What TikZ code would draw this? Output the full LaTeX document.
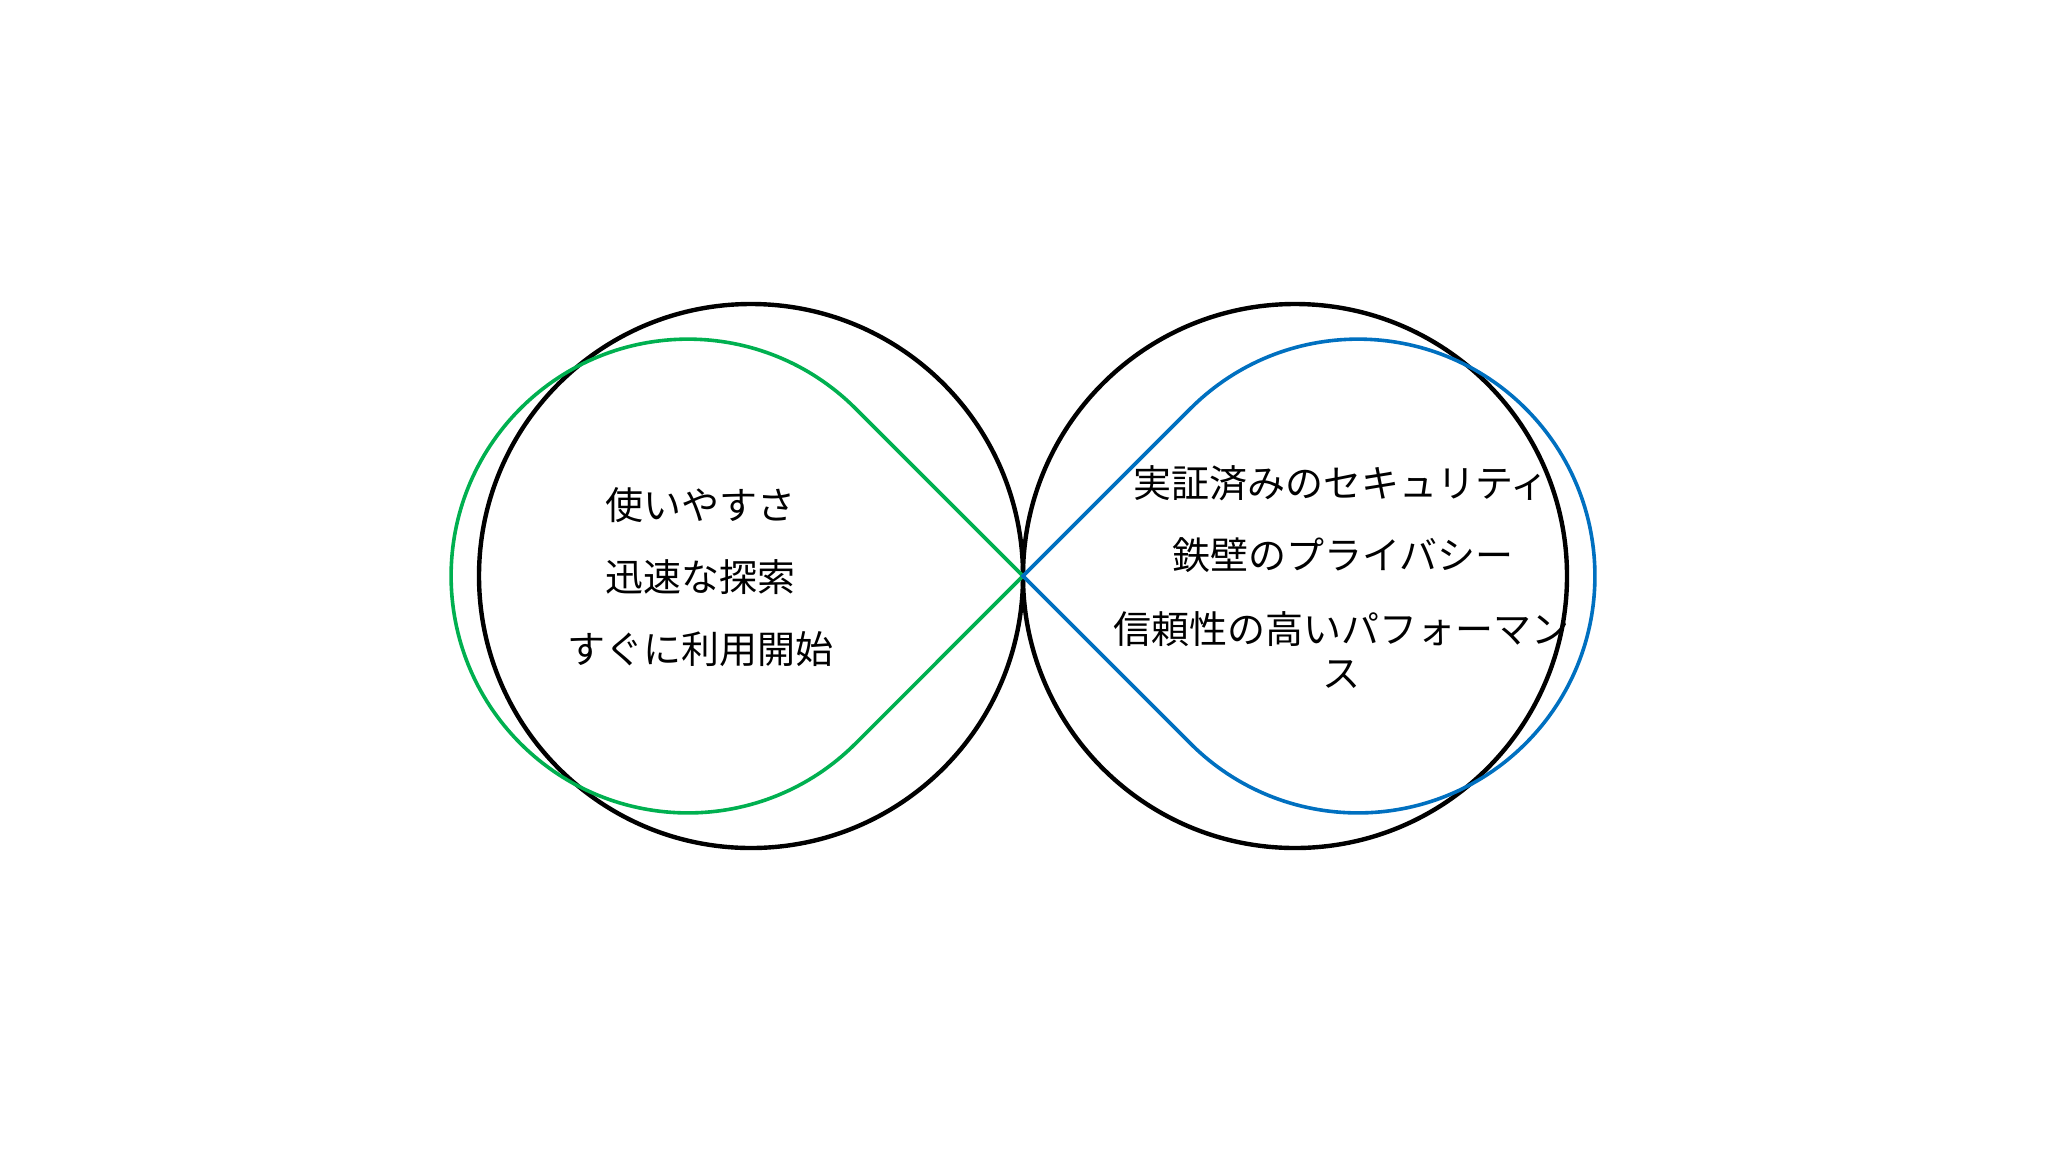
\documentclass[tikz,border=0pt]{standalone}
\usepackage{fontspec}
\newfontfamily\jpfont{Noto Sans CJK JP}
\definecolor{loopgreen}{RGB}{0,176,80}
\definecolor{loopblue}{RGB}{0,112,192}
\begin{document}
\begin{tikzpicture}[y=0.50pt, x=0.50pt, yscale=-1.000000, xscale=1.000000, inner sep=0pt, outer sep=0pt]
\path[fill=white] (0,0) rectangle (2048,1152);
\begin{scope}[font=\jpfont\fontsize{19pt}{22pt}\selectfont]
    \path[draw=black,line join=miter,line cap=butt,line width=2.2pt]
      (751.0,576.0) circle (272.0);
    \path[draw=black,line join=miter,line cap=butt,line width=2.2pt]
      (1295.0,576.0) circle (272.0);
    \path[draw=loopgreen,line join=miter,line cap=butt,line width=1.8pt]
      (1023.0,576.0) -- (855.5,408.5) arc (-45:-315:236.9) -- cycle;
    \path[draw=loopblue,line join=miter,line cap=butt,line width=1.8pt]
      (1023.0,576.0) -- (1190.5,408.5) arc (-135:135:236.9) -- cycle;
    \path[fill=black] (700.0,505.0) node (text4101) {使いやすさ};
    \path[fill=black] (700.0,577.0) node (text4103) {迅速な探索};
    \path[fill=black] (700.0,649.0) node (text4105) {すぐに利用開始};
    \path[fill=black] (1341.0,483.0) node (text4107) {実証済みのセキュリティ};
    \path[fill=black] (1343.0,555.0) node (text4109) {鉄壁のプライバシー};
    \path[fill=black] (1341.0,650.0) node[align=center] (text4111) {信頼性の高いパフォーマン\\ス};
\end{scope}
\end{tikzpicture}
\end{document}
